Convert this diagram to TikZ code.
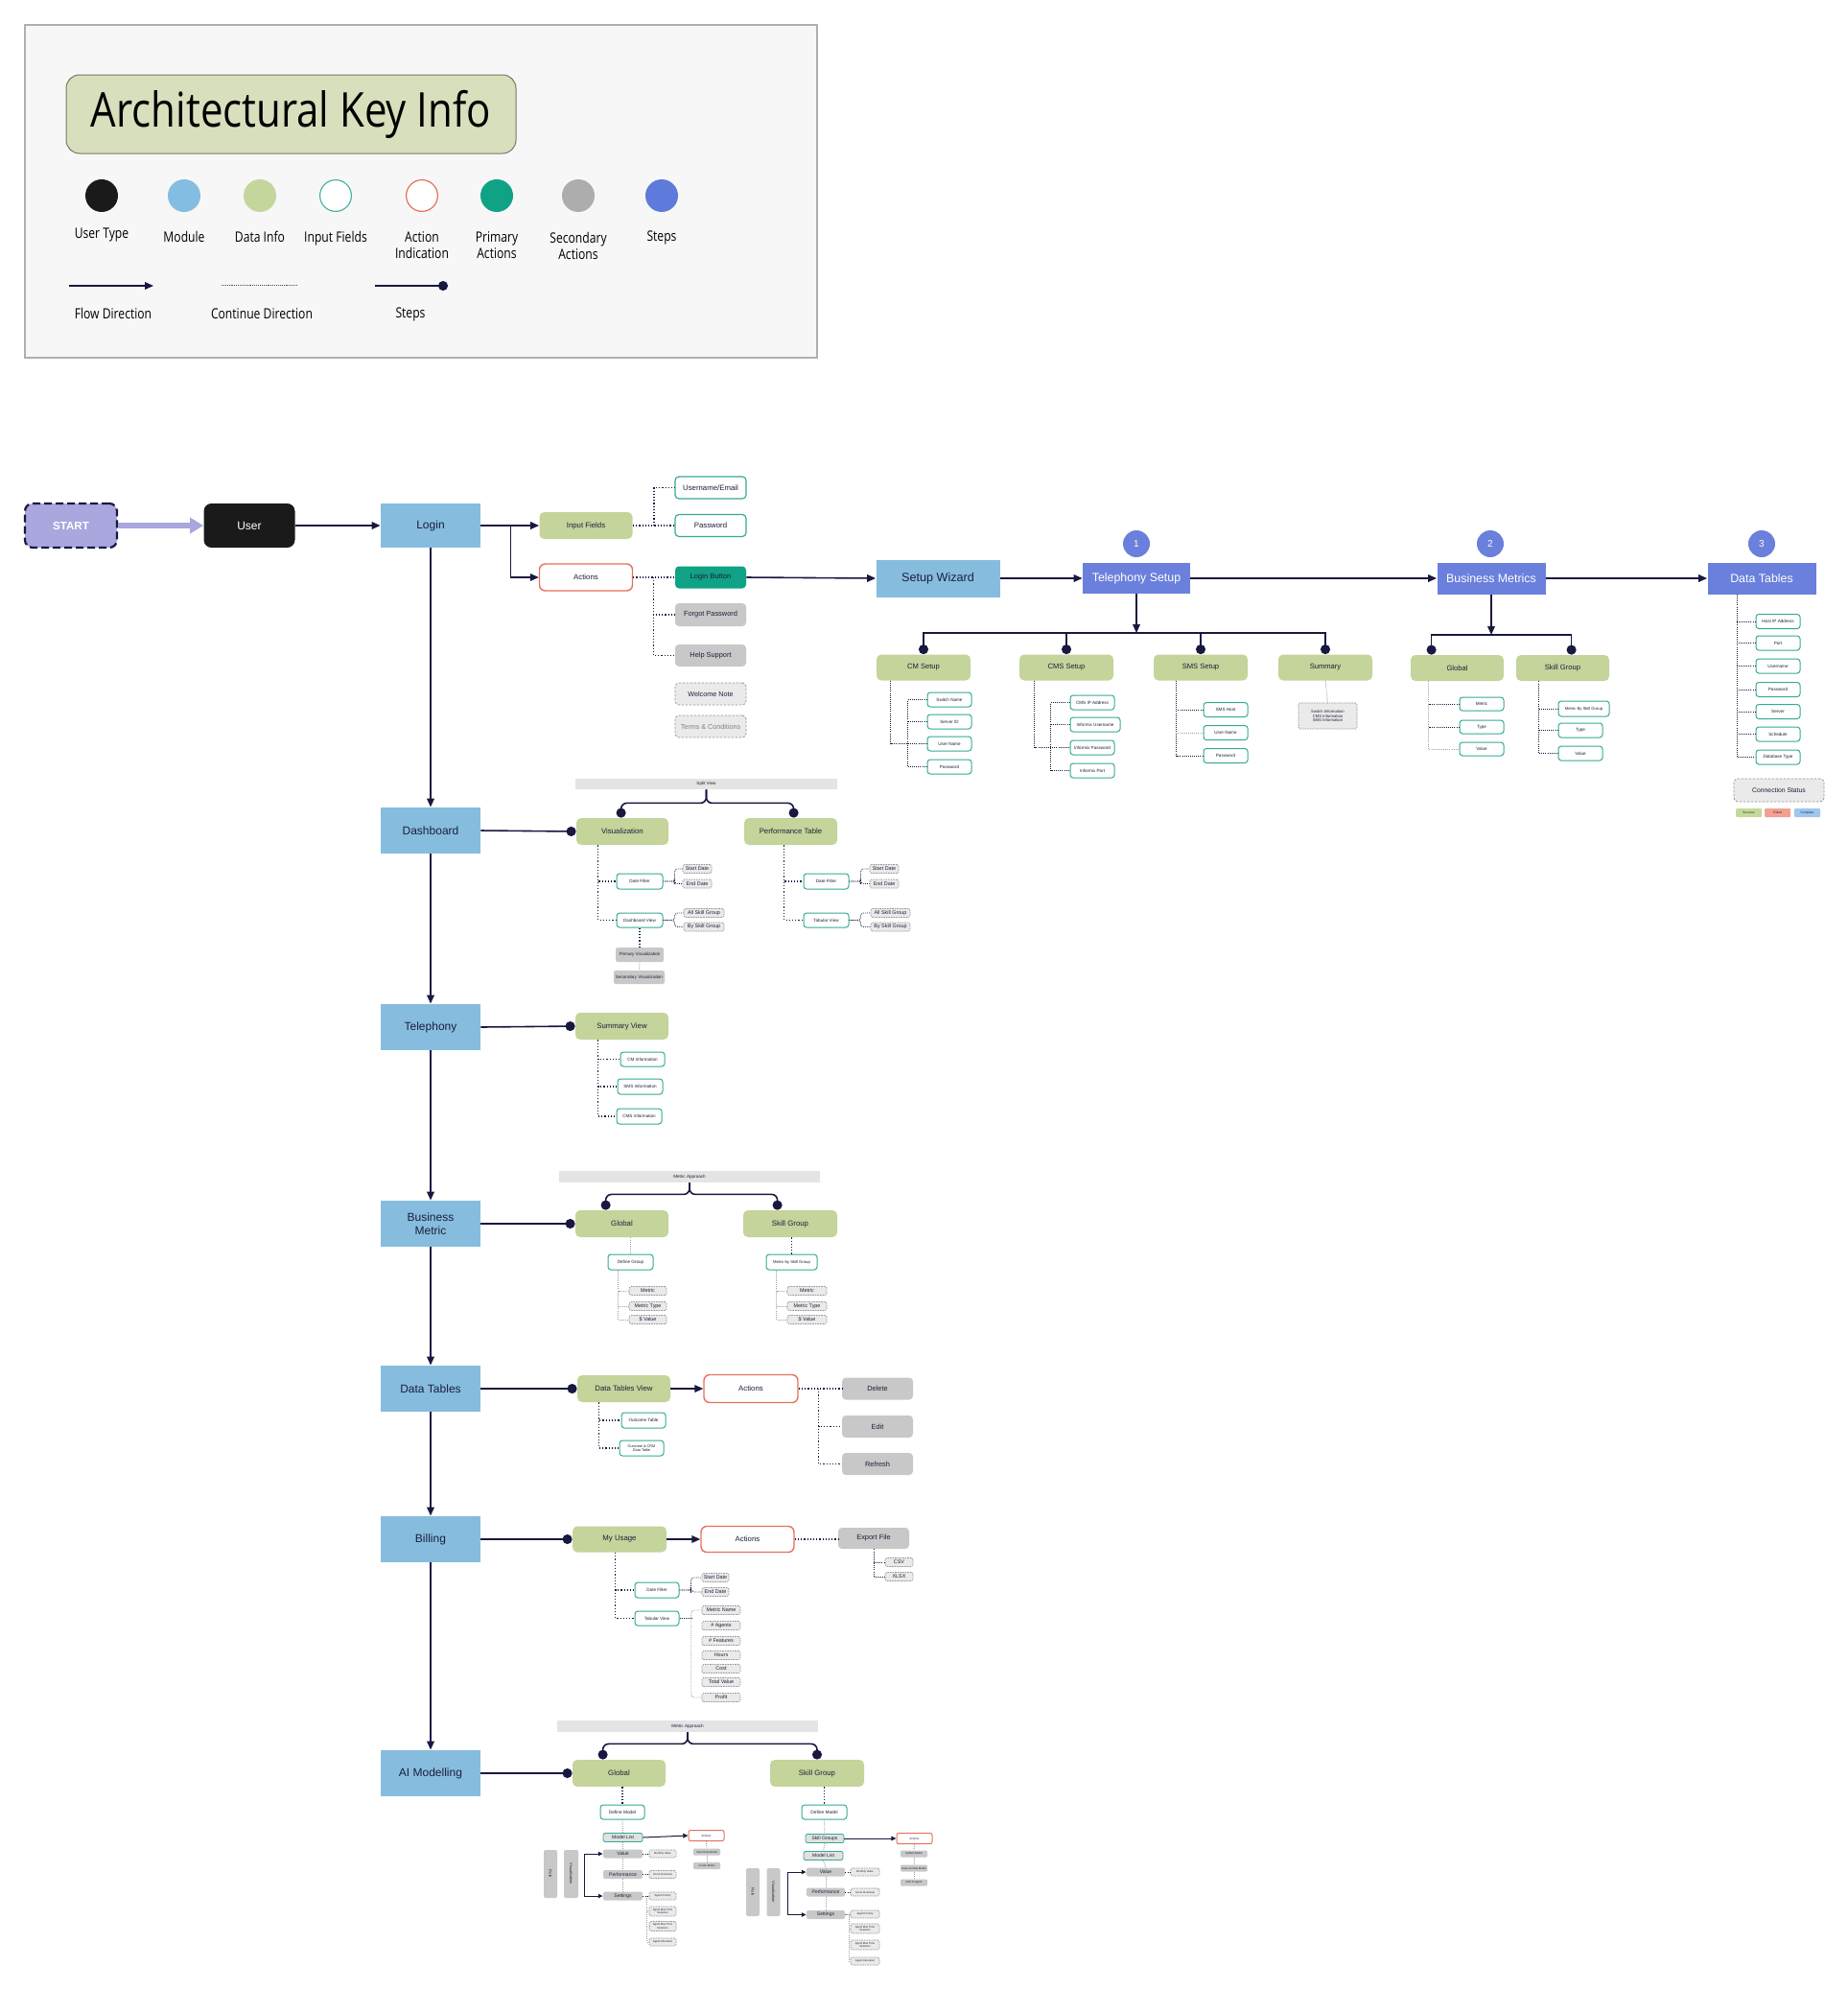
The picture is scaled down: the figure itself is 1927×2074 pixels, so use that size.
\documentclass[tikz,border=0pt]{standalone}
\usepackage{fontspec}
\setmainfont{Liberation Sans}
\newfontfamily\legf[FakeStretch=0.84]{Open Sans}
\newfontfamily\legg[FakeStretch=0.82]{Open Sans}
\usetikzlibrary{arrows.meta,calc}
\definecolor{navy}{RGB}{24,24,64}
\definecolor{txt}{RGB}{30,30,60}
\definecolor{modc}{RGB}{134,189,222}
\definecolor{stepc}{RGB}{106,128,220}
\definecolor{dic}{RGB}{196,212,154}
\definecolor{inpc}{RGB}{53,170,150}
\definecolor{actc}{RGB}{231,112,92}
\definecolor{primc}{RGB}{16,162,133}
\definecolor{secc}{RGB}{200,200,200}
\definecolor{dashc}{RGB}{150,150,150}
\definecolor{dshf}{RGB}{234,234,234}
\definecolor{barc}{RGB}{228,228,228}
\definecolor{lav}{RGB}{169,167,221}
\definecolor{userc}{RGB}{26,26,26}
\definecolor{legbg}{RGB}{247,247,247}
\definecolor{legbd}{RGB}{175,175,175}
\definecolor{titc}{RGB}{216,223,188}
\definecolor{titbd}{RGB}{120,120,105}
\definecolor{kmod}{RGB}{132,189,226}
\definecolor{kdi}{RGB}{197,214,156}
\definecolor{kinp}{RGB}{76,181,163}
\definecolor{kact}{RGB}{230,111,92}
\definecolor{ksec}{RGB}{173,173,173}
\definecolor{kstep}{RGB}{94,123,220}
\definecolor{succc}{RGB}{197,217,155}
\definecolor{failc}{RGB}{242,160,144}
\definecolor{compc}{RGB}{156,199,238}
\newcommand\fs[1]{\fontsize{#1pt}{\fpeval{1.18*#1}pt}\selectfont}
\newcommand\B[6]{\node[#1,minimum width=#4*0.5pt,minimum height=#5*0.5pt] (#2) at (#3) {#6};}
\tikzset{
 every node/.style={inner sep=0.4pt, align=center, text=txt},
 modst/.style={fill=modc, font=\fs{6}},
 stst/.style={fill=stepc, text=white, font=\fs{6.2}},
 stc/.style={circle, fill=stepc, text=white, font=\fs{5}, minimum size=14pt, inner sep=0pt},
 dist/.style={fill=dic, rounded corners=2.5pt, font=\fs{3.9}},
 inpb/.style={draw=inpc, line width=0.6pt, fill=white, rounded corners=2pt, font=\fs{3.9}},
 inps/.style={draw=inpc, line width=0.5pt, fill=white, rounded corners=1.5pt, font=\fs{2.3}},
 actb/.style={draw=actc, line width=0.7pt, fill=white, rounded corners=3pt, font=\fs{3.9}},
 acts/.style={draw=actc, line width=0.5pt, fill=white, rounded corners=1pt, font=\fs{1.5}},
 primb/.style={fill=primc, rounded corners=2pt, font=\fs{3.8}},
 secb/.style={fill=secc, rounded corners=2pt, font=\fs{3.7}},
 secs/.style={fill=secc, rounded corners=1pt, font=\fs{2.5}},
 sect/.style={fill=secc, rounded corners=0.6pt, font=\fs{1.4}},
 dshb/.style={draw=dashc, line width=0.4pt, dash pattern=on 1.2pt off 0.8pt, fill=dshf, rounded corners=2pt, font=\fs{3.6}},
 dshs/.style={draw=dashc, line width=0.3pt, dash pattern=on 0.8pt off 0.5pt, fill=dshf, rounded corners=0.8pt, font=\fs{2.7}},
 dsht/.style={dshs, font=\fs{1.4}},
 barst/.style={fill=barc, font=\fs{2.3}},
 listb/.style={fill=secc!55, draw=inpc, line width=0.4pt, rounded corners=1pt, font=\fs{2.5}},
 pill/.style={rounded corners=0.5pt, font=\fs{1.6}},
 arr/.style={draw=navy, line width=0.8pt, -{Triangle[length=4.5pt,width=3.8pt]}},
 arrs/.style={draw=navy, line width=0.5pt, -{Triangle[length=2.6pt,width=2.3pt]}},
 arrb/.style={draw=navy, line width=0.5pt, {Triangle[length=2.4pt,width=2.2pt]}-{Triangle[length=2.4pt,width=2.2pt]}},
 stl/.style={draw=navy, line width=0.8pt, -{Circle[length=5pt]}},
 dotl/.style={draw=navy, line width=0.6pt, densely dotted},
 sdot/.style={draw=navy, line width=0.45pt, dash pattern=on 0.45pt off 0.6pt},
 gdot/.style={draw=gray!75, line width=0.45pt, dash pattern=on 0.45pt off 0.6pt},
 legt/.style={font=\legg\fs{7.4}, anchor=north, text=black},
}
\begin{document}
\begin{tikzpicture}[x=0.5pt,y=-0.5pt]
\useasboundingbox (0,0) rectangle (1927,2074);
\fill[white] (0,0) rectangle (1927,2074);

% ---------------- legend ----------------
\node[draw=legbd, fill=legbg, line width=0.6pt, minimum width=826*0.5pt, minimum height=347*0.5pt, inner sep=0pt] (legend) at (439,199.5) {};
\node[draw=titbd, fill=titc, rounded corners=7pt, line width=0.5pt, minimum width=469*0.5pt, minimum height=82*0.5pt, font=\legf\fs{25}, text=black] (title) at (303.5,119) {Architectural Key Info};
\node[circle, fill=userc, minimum size=17pt, inner sep=0pt] (k1) at (106,204) {};
\node[circle, fill=kmod, minimum size=17pt, inner sep=0pt] (k2) at (192,204) {};
\node[circle, fill=kdi, minimum size=17pt, inner sep=0pt] (k3) at (271,204) {};
\node[circle, draw=kinp, fill=white, line width=0.6pt, minimum size=16.4pt, inner sep=0pt] (k4) at (350,204) {};
\node[circle, draw=kact, fill=white, line width=0.6pt, minimum size=16.4pt, inner sep=0pt] (k5) at (440,204) {};
\node[circle, fill=primc, minimum size=17pt, inner sep=0pt] (k6) at (518,204) {};
\node[circle, fill=ksec, minimum size=17pt, inner sep=0pt] (k7) at (603,204) {};
\node[circle, fill=kstep, minimum size=17pt, inner sep=0pt] (k8) at (690,204) {};
\node[legt] (l1) at (106,237) {User Type};
\node[legt] (l2) at (192,240) {Module};
\node[legt] (l3) at (271,240) {Data Info};
\node[legt] (l4) at (350,240) {Input Fields};
\node[legt] (l5) at (440,240) {Action\\Indication};
\node[legt] (l6) at (518,240) {Primary\\Actions};
\node[legt] (l7) at (603,241) {Secondary\\Actions};
\node[legt] (l8) at (690,240) {Steps};
\coordinate (fa) at (72,298); \coordinate (fb) at (160,298);
\draw[arr] (fa) -- (fb);
\coordinate (ca) at (231,297); \coordinate (cb) at (309,297);
\draw[draw=navy!80, line width=0.4pt, dash pattern=on 0.4pt off 0.55pt] (ca) -- (cb);
\coordinate (sa) at (391,298); \coordinate (sb) at (467,298);
\draw[stl] (sa) -- (sb);
\node[legt] (l9) at (118,320) {Flow Direction};
\node[legt] (l10) at (273,320) {Continue Direction};
\node[legt] (l11) at (428,320) {Steps};

% ---------------- main column ----------------
\node[fill=lav, draw=navy, line width=1.1pt, dash pattern=on 4pt off 2pt, rounded corners=4pt, text=white, font=\bfseries\fs{5.8}, minimum width=96*0.5pt, minimum height=46*0.5pt] (start) at (74,548) {START};
\node[fill=userc, rounded corners=4pt, text=white, font=\fs{6}, minimum width=95*0.5pt, minimum height=46*0.5pt] (user) at (260,548) {User};
\draw[draw=lav, line width=2.6pt, -{Triangle[length=7pt,width=8pt]}] (start.east) -- (user.west);
\B{modst}{login}{449,548}{104}{46}{Login}
\B{modst}{dash}{449,866}{104}{48}{Dashboard}
\B{modst}{tel}{449,1071}{104}{48}{Telephony}
\B{modst}{bmet}{449,1276}{104}{48}{Business\\Metric}
\B{modst}{dtab}{449,1448}{104}{48}{Data Tables}
\B{modst}{bill}{449,1605}{104}{48}{Billing}
\B{modst}{aim}{449,1849}{104}{48}{AI Modelling}
\draw[arr] (user.east) -- (login.west);
\draw[arr] (login.south) -- (dash.north);
\draw[arr] (dash.south) -- (tel.north);
\draw[arr] (tel.south) -- (bmet.north);
\draw[arr] (bmet.south) -- (dtab.north);
\draw[arr] (dtab.south) -- (bill.north);
\draw[arr] (bill.south) -- (aim.north);

% ---------------- login ----------------
\B{dist}{inpf}{611,548}{97}{28}{Input Fields}
\B{actb}{actn}{611,602}{97}{28}{Actions}
\B{inpb}{usr}{741,508.5}{74}{23}{Username/Email}
\B{inpb}{pwd}{741,548}{74}{23}{Password}
\B{primb}{lbtn}{741,602}{74}{23}{Login Button}
\B{secb}{fpw}{741,641}{74}{24}{Forgot Password}
\B{secb}{hlp}{741,683.5}{74}{23}{Help Support}
\B{dshb}{wel}{741,723.5}{74}{23}{Welcome Note}
\B{dshb,text=gray}{trm}{741,757.5}{74}{23}{Terms \& Conditions}
\draw[arr] (login.east) -- (inpf.west);
\draw[arr] (login.east) -- ++(31,0) |- (actn.west);
\draw[dotl] (inpf.east) -- (pwd.west);
\draw[dotl] (inpf.east) ++(22,0) |- (usr.west);
\draw[dotl] (actn.east) -- (lbtn.west);
\draw[dotl] (actn.east) ++(21,0) |- (fpw.west);
\draw[dotl] (actn.east) ++(21,0) |- (hlp.west);

% ---------------- setup wizard row ----------------
\B{modst,font=\fs{6.3}}{sw}{978,603}{129}{39}{Setup Wizard}
\B{stst}{ts}{1185,603}{112}{32}{Telephony Setup}
\B{stst}{bm}{1555,603}{113}{33}{Business Metrics}
\B{stst}{dt}{1837,603}{113}{33}{Data Tables}
\node[stc] (c1) at (1185,567) {1};
\node[stc] (c2) at (1554,567) {2};
\node[stc] (c3) at (1837,567) {3};
\draw[arr] (lbtn.east) -- (sw.west);
\draw[arr] (sw.east) -- (ts.west);
\draw[arr] (ts.east) -- (bm.west);
\draw[arr] (bm.east) -- (dt.west);

% telephony setup children
\B{dist,font=\fs{3.8}}{cms}{963,696}{98}{27}{CM Setup}
\B{dist,font=\fs{3.8}}{cmss}{1112,696}{98}{27}{CMS Setup}
\B{dist,font=\fs{3.8}}{smss}{1252,696}{98}{27}{SMS Setup}
\B{dist,font=\fs{3.8}}{summ}{1382,696}{98}{27}{Summary}
\coordinate (tsb) at (1185,660);
\draw[arr] (ts.south) -- (tsb);
\draw[stl] (tsb) -| (cms.north);
\draw[stl] (tsb) -| (cmss.north);
\draw[stl] (tsb) -| (smss.north);
\draw[stl] (tsb) -| (summ.north);
\B{inps}{sn}{990,729.5}{46}{15}{Switch Name}
\B{inps}{sid}{990,752.5}{46}{15}{Server ID}
\B{inps}{un}{990,775.5}{46}{15}{User Name}
\B{inps}{pw}{990,799.5}{46}{15}{Password}
\draw[sdot] ($(cms.south west)+(15,0)$) |- (un.west);
\draw[sdot] (sn.west) -- ++(-20,0) |- (pw.west);
\draw[sdot] (sid.west) -- ++(-20,0);
\B{inps}{cip}{1139,732.5}{46}{15}{CMS IP Address}
\B{inps}{iu}{1142,755.5}{52}{15}{Informix Username}
\B{inps}{ip}{1139,779.5}{46}{15}{Informix Password}
\B{inps}{iport}{1139,803.5}{46}{15}{Informix Port}
\draw[sdot] ($(cmss.south west)+(16,0)$) |- (ip.west);
\draw[sdot] (cip.west) -- ++(-20,0) |- (iport.west);
\draw[sdot] (iu.west) -- ++(-20,0);
\B{inps}{shost}{1278,740}{46}{15}{SMS Host}
\B{inps}{sun}{1278,764}{46}{15}{User Name}
\B{inps}{spw}{1278,788}{46}{15}{Password}
\draw[sdot] ($(smss.south west)+(24,0)$) |- (spw.west);
\draw[sdot] (shost.west) -- ++(-27,0);
\draw[gdot] (sun.west) -- ++(-27,0);
\B{dshs,font=\fs{2.1}}{sinf}{1384.5,746.5}{61}{27}{Switch Information\\CMS Information\\SMS Information}
\draw[gdot] (summ.south) -- (sinf.north);

% business metrics children
\B{dist,font=\fs{3.8}}{g1}{1519.5,696.5}{97}{27}{Global}
\B{dist,font=\fs{3.8}}{sg1}{1629.5,696.5}{97}{27}{Skill Group}
\coordinate (bmb) at (1555,662);
\draw[arr] (bm.south) -- (bmb);
\draw[stl] (bmb) -| ($(g1.north west)+(22,0)$);
\draw[stl] (bmb) -| ($(sg1.north west)+(58,0)$);
\B{inps}{gm}{1545,734}{46}{14}{Metric}
\B{inps}{gt}{1545,758}{46}{14}{Type}
\B{inps}{gv}{1545,781}{46}{14}{Value}
\draw[gdot] ($(g1.south west)+(19,0)$) |- (gv.west);
\draw[sdot] (gm.west) -- ++(-32,0);
\draw[sdot] (gt.west) -- ++(-32,0);
\B{inps,font=\fs{2.1}}{sgm}{1651.5,739}{53}{16}{Metric By Skill Group}
\B{inps}{sgt}{1648,761.5}{46}{15}{Type}
\B{inps}{sgv}{1648,785.5}{46}{15}{Value}
\draw[sdot] ($(sg1.south west)+(24,0)$) |- (sgv.west);
\draw[sdot] (sgm.west) -- ++(-20,0);
\draw[sdot] (sgt.west) -- ++(-20,0);

% data tables step children
\B{inps}{hip}{1854,648}{46}{15}{Host IP Address}
\B{inps}{dport}{1854,670.5}{46}{15}{Port}
\B{inps}{dun}{1854,694.5}{46}{15}{Username}
\B{inps}{dpw}{1854,719}{46}{15}{Password}
\B{inps}{srv}{1854,742}{46}{15}{Server}
\B{inps}{sch}{1854,765.5}{46}{15}{Schedule}
\B{inps}{dbt}{1854,789.5}{46}{15}{Database Type}
\draw[sdot] ($(dt.south west)+(31,0)$) |- (dbt.west);
\draw[sdot] (hip.west) -- ++(-20,0);
\draw[sdot] (dport.west) -- ++(-20,0);
\draw[sdot] (dun.west) -- ++(-20,0);
\draw[sdot] (dpw.west) -- ++(-20,0);
\draw[sdot] (srv.west) -- ++(-20,0);
\draw[sdot] (sch.west) -- ++(-20,0);
\B{dshb,font=\fs{3.4}}{cst}{1855,824}{94}{24}{Connection Status}
\B{pill,fill=succc}{psucc}{1823.5,847.5}{27}{9}{Success}
\B{pill,fill=failc}{pfail}{1853.5,847.5}{27}{9}{Failed}
\B{pill,fill=compc}{pcomp}{1884.5,847.5}{27}{9}{Complete}

% ---------------- dashboard ----------------
\B{barst}{sv}{736.5,817.5}{273}{11}{Split View}
\B{dist}{viz}{649,867}{96}{28}{Visualization}
\B{dist}{perf}{824.5,867}{97}{28}{Performance Table}
\draw[stl] (dash.east) -- (viz.west);
\draw[stl, rounded corners=3pt] (sv.south) -- ++(0,14) -| ($(viz.north west)+(47,0)$);
\draw[stl, rounded corners=3pt] (sv.south) -- ++(0,14) -| ($(perf.north west)+(52,0)$);
\B{inps}{df1}{667,919}{48}{16}{Date Filter}
\B{inps}{dbv}{667,959.5}{48}{15}{Dashboard View}
\B{dshs}{sd1}{727,906}{30}{9}{Start Date}
\B{dshs}{ed1}{727,921.5}{30}{9}{End Date}
\B{dshs}{as1}{734,952}{42}{9}{All Skill Group}
\B{dshs}{bs1}{734,966.5}{42}{9}{By Skill Group}
\B{secs,font=\fs{2.3}}{pv}{667,995.5}{50}{15}{Primary Visualization}
\B{secs,font=\fs{2.3}}{secv}{666.5,1019}{53}{14}{Secondary Visualization}
\draw[dotl] ($(viz.south west)+(23,0)$) |- (dbv.west);
\draw[dotl] ($(viz.south west)+(23,0)$) |- (df1.west);
\draw[sdot, rounded corners=1.5pt] (df1.east) -- ++(12,0) |- (sd1.west);
\draw[sdot, rounded corners=1.5pt] (df1.east) -- ++(12,0) |- (ed1.west);
\draw[sdot, rounded corners=1.5pt] (dbv.east) -- ++(12,0) |- (as1.west);
\draw[sdot, rounded corners=1.5pt] (dbv.east) -- ++(12,0) |- (bs1.west);
\draw[dotl] (dbv.south) -- (pv.north);
\draw[gdot] (pv.south) -- (secv.north);
\B{inps}{df2}{861.5,919}{47}{16}{Date Filter}
\B{inps}{tv2}{861.5,959.5}{47}{15}{Tabular View}
\B{dshs}{sd2}{922,906}{30}{9}{Start Date}
\B{dshs}{ed2}{922,921.5}{30}{9}{End Date}
\B{dshs}{as2}{928.5,952}{41}{9}{All Skill Group}
\B{dshs}{bs2}{928.5,966.5}{41}{9}{By Skill Group}
\draw[dotl] ($(perf.south west)+(42,0)$) |- (tv2.west);
\draw[dotl] ($(perf.south west)+(42,0)$) |- (df2.west);
\draw[sdot, rounded corners=1.5pt] (df2.east) -- ++(12,0) |- (sd2.west);
\draw[sdot, rounded corners=1.5pt] (df2.east) -- ++(12,0) |- (ed2.west);
\draw[sdot, rounded corners=1.5pt] (tv2.east) -- ++(12,0) |- (as2.west);
\draw[sdot, rounded corners=1.5pt] (tv2.east) -- ++(12,0) |- (bs2.west);

% ---------------- telephony ----------------
\B{dist}{smv}{648.5,1070}{97}{28}{Summary View}
\draw[stl] (tel.east) -- (smv.west);
\B{inps}{cmi}{670,1104.5}{46}{15}{CM Information}
\B{inps}{smi}{667.5,1133}{47}{16}{SMS Information}
\B{inps}{cmsi}{666.5,1164}{47}{16}{CMS Information}
\draw[dotl] ($(smv.south west)+(24,0)$) |- (cmsi.west);
\draw[dotl] ($(smv.south west)+(24,0)$) |- (cmi.west);
\draw[dotl] ($(smv.south west)+(24,0)$) |- (smi.west);

% ---------------- business metric ----------------
\B{barst}{ma1}{719,1227}{272}{12}{Metric Approach}
\B{dist}{gl2}{648.5,1276}{97}{28}{Global}
\B{dist}{sg2}{824,1276}{98}{28}{Skill Group}
\draw[stl] (bmet.east) -- (gl2.west);
\draw[stl, rounded corners=3pt] (ma1.south) -- ++(0,12) -| ($(gl2.north west)+(32,0)$);
\draw[stl, rounded corners=3pt] (ma1.south) -- ++(0,12) -| ($(sg2.north west)+(36,0)$);
\B{inps}{dg}{657.5,1316}{47}{16}{Define Group}
\draw[gdot] (gl2.south -| dg.north) -- (dg.north);
\B{dshs}{m1}{675.5,1346}{39}{9}{Metric}
\B{dshs}{mt1}{675.5,1362}{39}{9}{Metric Type}
\B{dshs}{v1}{675.5,1376}{39}{9}{\$ Value}
\draw[gdot] ($(dg.south west)+(11,0)$) |- (v1.west);
\draw[gdot] ($(dg.south west)+(11,0)$) |- (m1.west);
\draw[gdot] ($(dg.south west)+(11,0)$) |- (mt1.west);
\B{inps,font=\fs{2.1}}{msg}{825.5,1316}{53}{16}{Metric by Skill Group}
\draw[dotl] (sg2.south -| msg.north) -- (msg.north);
\B{dshs}{m2}{841.5,1346}{41}{9}{Metric}
\B{dshs}{mt2}{841.5,1362}{41}{9}{Metric Type}
\B{dshs}{v2}{841.5,1376}{41}{9}{\$ Value}
\draw[gdot] ($(msg.south west)+(11,0)$) |- (v2.west);
\draw[gdot] ($(msg.south west)+(11,0)$) |- (m2.west);
\draw[gdot] ($(msg.south west)+(11,0)$) |- (mt2.west);

% ---------------- data tables ----------------
\B{dist}{dtv}{650.5,1448}{97}{28}{Data Tables View}
\B{actb}{act2}{783,1448}{98}{29}{Actions}
\B{secb}{del}{915,1448}{74}{23}{Delete}
\B{secb}{edt}{915,1487.5}{74}{23}{Edit}
\B{secb}{refr}{915,1526.5}{74}{23}{Refresh}
\draw[stl] (dtab.east) -- (dtv.west);
\draw[arr] (dtv.east) -- (act2.west);
\draw[dotl] (act2.east) -- (del.west);
\draw[dotl] (act2.east) ++(21,0) |- (edt.west);
\draw[dotl] (act2.east) ++(21,0) |- (refr.west);
\B{inps}{ot}{671,1481}{46}{16}{Outcome Table}
\B{inps,font=\fs{1.9}}{ocrm}{669,1510}{46}{16}{Outcome \& CRM\\Data Table}
\draw[dotl] ($(dtv.south west)+(23,0)$) |- (ocrm.west);
\draw[dotl] ($(dtv.south west)+(23,0)$) |- (ot.west);

% ---------------- billing ----------------
\B{dist}{mu}{646,1605}{98}{27}{My Usage}
\B{actb}{act3}{779.5,1605}{97}{27}{Actions}
\B{secb}{exf}{911,1604}{74}{22}{Export File}
\draw[stl] (bill.east) -- (mu.west);
\draw[arr] (mu.east) -- (act3.west);
\draw[dotl] (act3.east) -- (act3.east -| exf.west);
\B{dshs}{csv}{937.5,1629}{29}{9}{CSV}
\B{dshs}{xlsx}{937.5,1644}{29}{9}{XLSX}
\draw[sdot] (exf.south) |- (xlsx.west);
\draw[sdot] (exf.south |- csv.west) -- (csv.west);
\B{inps}{df3}{685,1658}{46}{16}{Date Filter}
\B{inps}{tv3}{685,1687.5}{46}{15}{Tabular View}
\draw[dotl] ($(mu.south west)+(45,0)$) |- (tv3.west);
\draw[dotl] ($(mu.south west)+(45,0)$) |- (df3.west);
\B{dshs}{sd3}{746,1645}{28}{9}{Start Date}
\B{dshs}{ed3}{746,1660}{28}{9}{End Date}
\draw[sdot, rounded corners=1.5pt] (df3.east) -- ++(12,0) |- (sd3.west);
\draw[sdot, rounded corners=1.5pt] (df3.east) -- ++(12,0) |- (ed3.west);
\B{dshs}{mn}{752,1679}{40}{9}{Metric Name}
\B{dshs}{ag}{752,1695}{40}{9}{\# Agents}
\B{dshs}{ft}{752,1711}{40}{9}{\# Features}
\B{dshs}{hr}{752,1726}{40}{9}{Hours}
\B{dshs}{cost}{752,1740}{40}{9}{Cost}
\B{dshs}{tval}{752,1754}{40}{9}{Total Value}
\B{dshs}{prof}{752,1770}{40}{9}{Profit}
\draw[sdot] (tv3.east) -- ++(13,0);
\draw[gdot, rounded corners=1.5pt] (mn.west) -- ++(-11,0) |- (prof.west);

% ---------------- AI modelling ----------------
\B{barst}{ma2}{717,1800}{272}{12}{Metric Approach}
\B{dist}{gl3}{645.5,1849}{97}{28}{Global}
\B{dist}{sg3}{852,1849}{98}{28}{Skill Group}
\draw[stl] (aim.east) -- (gl3.west);
\draw[stl, rounded corners=3pt] (ma2.south) -- ++(0,12) -| ($(gl3.north west)+(32,0)$);
\draw[stl, rounded corners=3pt] (ma2.south) -- ++(0,12) -| (sg3.north);
% global
\B{inps,font=\fs{2.4}}{dm1}{649,1889.5}{46}{15}{Define Model}
\B{listb}{ml1}{649.5,1916}{41}{9}{Model List}
\B{secs}{val1}{649.5,1933}{41}{9}{Value}
\B{secs}{perf1}{649.5,1954.5}{41}{9}{Performance}
\B{secs}{set1}{649.5,1977}{41}{9}{Settings}
\draw[dotl] (gl3.south -| dm1.north) -- (dm1.north);
\draw[gdot] (dm1.south) -- (ml1.north);
\draw[gdot] (ml1.south) -- (val1.north);
\draw[gdot] (val1.south) -- (perf1.north);
\draw[gdot] (perf1.south) -- (set1.north);
\B{acts}{ra1}{736.5,1914}{37}{11}{Actions}
\draw[arrs] (ml1.east) -- (ra1.west);
\B{sect}{sdm1}{737,1931}{28}{7}{Save Data Model}
\B{sect}{crm1}{737,1945.5}{28}{7}{Create Model}
\draw[gdot] (ra1.south) -- (sdm1.north);
\draw[gdot] (sdm1.south) -- (crm1.north);
\draw[arrb] (val1.west) -- ++(-19,0) |- (set1.west);
\node[secs, rotate=-90, minimum width=25pt, minimum height=7pt, font=\fs{2}] (rule1) at (574,1954) {Rule};
\node[secs, rotate=-90, minimum width=25pt, minimum height=7.5pt, font=\fs{2}] (vis1) at (595.5,1954) {Visualization};
\B{dsht}{mv1}{691,1933}{28}{8}{Monthly Value}
\B{dsht}{so1}{691,1954.5}{28}{8}{Score Overview}
\B{dsht}{ap1}{691,1977}{28}{8}{Agent Priority}
\B{dsht}{amt1}{691,1993}{28}{10}{Agent Max Time\\Sessions}
\B{dsht}{amt1b}{691,2008.5}{28}{10}{Agent Max Time\\Sessions}
\B{dsht}{aal1}{691,2025}{28}{8}{Agent Allocation}
\draw[sdot] (val1.east) -- (mv1.west);
\draw[sdot] (perf1.east) -- (so1.west);
\draw[sdot] (set1.east) -- (ap1.west);
\draw[gdot] (set1.east) ++(4,0) |- (aal1.west);
\draw[gdot] (set1.east) ++(4,0) |- (amt1.west);
\draw[gdot] (set1.east) ++(4,0) |- (amt1b.west);
% skill group
\B{inps,font=\fs{2.4}}{dm2}{859.5,1889.5}{47}{15}{Define Model}
\B{listb}{sgs}{860,1917}{40}{9}{Skill Groups}
\B{listb}{ml2}{858.5,1935}{41}{9}{Model List}
\B{secs}{val2}{861,1952}{40}{9}{Value}
\B{secs}{perf2}{861,1973}{40}{9}{Performance}
\B{secs}{set2}{861,1996.5}{40}{9}{Settings}
\draw[dotl] (sg3.south -| dm2.north) -- (dm2.north);
\draw[gdot] (dm2.south) -- (sgs.north);
\draw[gdot] (sgs.south) -- (ml2.north);
\draw[gdot] (ml2.south) -- (val2.north);
\draw[gdot] (val2.south) -- (perf2.north);
\draw[gdot] (perf2.south) -- (set2.north);
\B{acts}{ra2}{953.5,1917}{37}{11}{Actions}
\draw[arrs] (sgs.east) -- (ra2.west);
\B{sect}{um2}{953,1933}{28}{7}{Update Model}
\B{sect}{sn2}{953,1948}{28}{7}{Save As New Model}
\B{sect}{ag2}{953,1963}{28}{7}{Add To Agent}
\draw[gdot] (ra2.south) -- (um2.north);
\draw[gdot] (um2.south) -- (sn2.north);
\draw[gdot] (sn2.south) -- (ag2.north);
\draw[arrb] (val2.west) -- ++(-19,0) |- (set2.west);
\node[secs, rotate=-90, minimum width=25pt, minimum height=7pt, font=\fs{2}] (rule2) at (785,1973) {Rule};
\node[secs, rotate=-90, minimum width=25pt, minimum height=7pt, font=\fs{2}] (vis2) at (806.5,1973) {Visualization};
\B{dsht}{mv2}{902,1952}{30}{8}{Monthly Value}
\B{dsht}{so2}{902,1973}{30}{8}{Score Overview}
\B{dsht}{ap2}{902,1996}{30}{8}{Agent Priority}
\B{dsht}{am2}{902,2011}{30}{10}{Agent Max Time\\Sessions}
\B{dsht}{am2b}{902,2028}{30}{10}{Agent Max Time\\Sessions}
\B{dsht}{aa2}{902,2045}{30}{8}{Agent Allocation}
\draw[sdot] (val2.east) -- (mv2.west);
\draw[sdot] (perf2.east) -- (so2.west);
\draw[sdot] (set2.east) -- (ap2.west);
\draw[gdot] (set2.east) ++(4,0) |- (aa2.west);
\draw[gdot] (set2.east) ++(4,0) |- (am2.west);
\draw[gdot] (set2.east) ++(4,0) |- (am2b.west);
\end{tikzpicture}
\end{document}
